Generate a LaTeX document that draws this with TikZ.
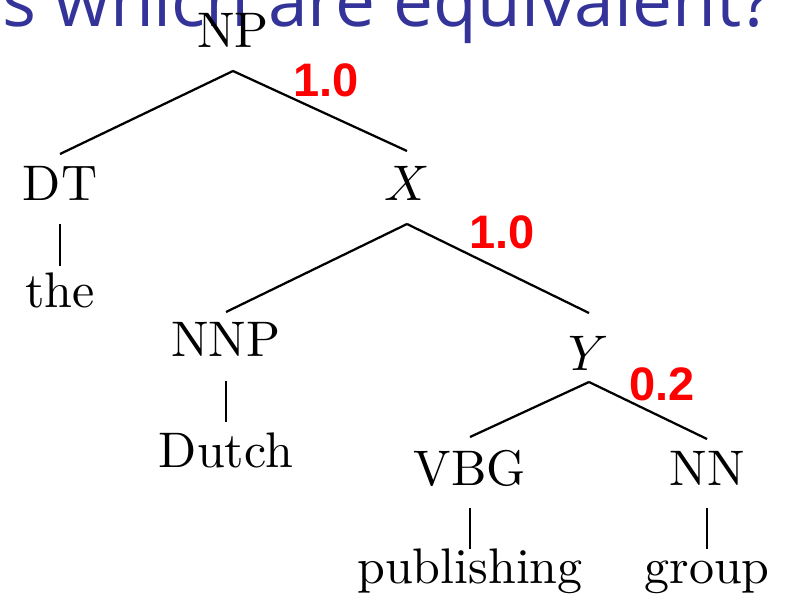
\documentclass[tikz,border=0pt]{standalone}
\usepackage{fontspec}
\usetikzlibrary{calc}
\newfontfamily\titlefont{Open Sans}
\newfontfamily\weightfont{Liberation Sans}
\definecolor{titleblue}{RGB}{51,51,153}
\definecolor{weightred}{RGB}{255,0,0}
\begin{document}
\begin{tikzpicture}[
  x=0.2pt, y=-0.2pt,
  lbl/.style={anchor=base, inner sep=0pt, text height=6.9pt, text depth=1.9pt,
              font=\fontsize{10}{12}\selectfont},
  weight/.style={anchor=base, inner sep=0pt, text=weightred,
                 font=\weightfont\bfseries\fontsize{9.4}{11}\selectfont},
  heading/.style={anchor=base east, inner sep=0pt, text=titleblue,
                  font=\titlefont\fontsize{14.25}{17}\selectfont},
  edge/.style={draw=black, line width=0.45pt}
]
\useasboundingbox (0,0) rectangle (785,600);
\clip (0,0) rectangle (785,600);

% heading line running behind the tree
\node[heading] (head) at (773,26) {s which are equivalent?};

% tree labels
\node[lbl] (np)    at (233,47)  {NP};
\node[lbl] (dt)    at (60,200)  {DT};
\node[lbl] (xn)    at (407,200) {$X$};
\node[lbl] (the)   at (60,307)  {the};
\node[lbl] (nnp)   at (226,356) {NNP};
\node[lbl] (dutch) at (226,467) {Dutch};
\node[lbl] (yn)    at (589,370) {$Y$};
\node[lbl] (vbg)   at (470,485) {VBG};
\node[lbl] (nn)    at (707,485) {NN};
\node[lbl] (pub)   at (470,583) {publishing};
\node[lbl] (grp)   at (707,583) {group};

% branches
\draw[edge] ($(np.south)+(0,13.5)$) -- ($(dt.north)+(0,-10.5)$);
\draw[edge] ($(np.south)+(0,13.5)$) -- ($(xn.north)+(0,-13.5)$);
\draw[edge] ($(dt.south)+(0,13.5)$) -- ($(the.north)+(0,-5.5)$);
\draw[edge] ($(xn.south)+(0,13.5)$) -- ($(nnp.north)+(0,-8.5)$);
\draw[edge] ($(xn.south)+(0,13.5)$) -- ($(yn.north)+(0,-21.5)$);
\draw[edge] ($(nnp.south)+(0,14.5)$) -- ($(dutch.north)+(0,-9.5)$);
\draw[edge] ($(yn.south)+(0,1.5)$) -- ($(vbg.north)+(0,-12.5)$);
\draw[edge] ($(yn.south)+(0,1.5)$) -- ($(nn.north)+(0,-10.5)$);
\draw[edge] ($(vbg.south)+(0,12.5)$) -- ($(pub.north)+(0,1.5)$);
\draw[edge] ($(nn.south)+(0,12.5)$) -- ($(grp.north)+(0,1.5)$);

% branch weights
\node[weight] (w1) at (326,96)  {1.0};
\node[weight] (w2) at (502,248) {1.0};
\node[weight] (w3) at (662,400) {0.2};
\end{tikzpicture}
\end{document}
